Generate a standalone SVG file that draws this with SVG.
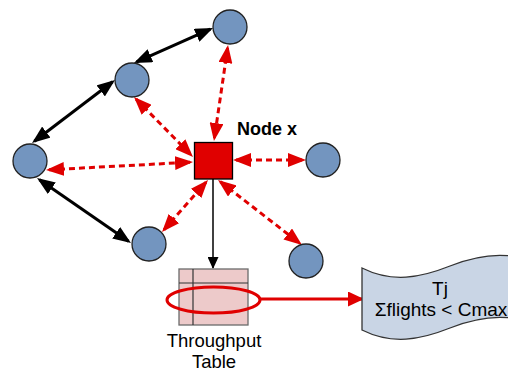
<svg xmlns="http://www.w3.org/2000/svg" width="508" height="372" viewBox="0 0 508 372">
  <defs>
    <style>
      .peer { fill: #7395bf; stroke: #222; stroke-width: 1.3; }
      .probe { fill: none; stroke: #e00000; stroke-width: 3; stroke-dasharray: 6 4; }
      .link { fill: none; stroke: #000; stroke-width: 3; }
      .lbl { font-family: "Liberation Sans", Arial, sans-serif; fill: #000; }
    </style>
    <marker id="ah-red" viewBox="0 0 18 14" refX="15" refY="7" markerWidth="18" markerHeight="14" markerUnits="userSpaceOnUse" orient="auto-start-reverse">
      <path d="M0,0 L18,7 L0,14 z" fill="#e00000"/>
    </marker>
    <marker id="ah-black" viewBox="0 0 18 14" refX="15" refY="7" markerWidth="18" markerHeight="14" markerUnits="userSpaceOnUse" orient="auto-start-reverse">
      <path d="M0,0 L18,7 L0,14 z" fill="#000"/>
    </marker>
    <marker id="ah-small" viewBox="0 0 12 11" refX="11" refY="5.5" markerWidth="12" markerHeight="11" markerUnits="userSpaceOnUse" orient="auto">
      <path d="M0,0 L12,5.5 L0,11 z" fill="#000"/>
    </marker>
    <marker id="ah-feed" viewBox="0 0 16 15" refX="14" refY="7.5" markerWidth="16" markerHeight="15" markerUnits="userSpaceOnUse" orient="auto">
      <path d="M0,0 L16,7.5 L0,15 z" fill="#e00000"/>
    </marker>
  </defs>

  <rect width="508" height="372" fill="#fff"/>

  <!-- connectors -->
  <g id="connectors">
    <!-- neighbour links (black, two-way) -->
    <path class="link" d="M210.3,29.2 L136.7,61.8" marker-start="url(#ah-black)" marker-end="url(#ah-black)"/>
    <path class="link" d="M112.6,81.8 L34.4,141.2" marker-start="url(#ah-black)" marker-end="url(#ah-black)"/>
    <path class="link" d="M39.5,179.7 L128.5,241.3" marker-start="url(#ah-black)" marker-end="url(#ah-black)"/>
    <!-- probes from node x (red dashed, two-way) -->
    <path class="probe" d="M227.6,48 L214.4,138" marker-start="url(#ah-red)" marker-end="url(#ah-red)"/>
    <path class="probe" d="M136.1,99.1 L190.9,154.9" marker-start="url(#ah-red)" marker-end="url(#ah-red)"/>
    <path class="probe" d="M49,169.8 L190,162.2" marker-start="url(#ah-red)" marker-end="url(#ah-red)"/>
    <path class="probe" d="M236,160 L303,160" marker-start="url(#ah-red)" marker-end="url(#ah-red)"/>
    <path class="probe" d="M164,229.8 L206,182.2" marker-start="url(#ah-red)" marker-end="url(#ah-red)"/>
    <path class="probe" d="M220.4,181.8 L299.6,243.2" marker-start="url(#ah-red)" marker-end="url(#ah-red)"/>
    <!-- node x to throughput table -->
    <path d="M213,179 L213,268" fill="none" stroke="#000" stroke-width="1.5" marker-end="url(#ah-small)"/>
    <!-- table entry to constraint -->
    <path d="M260,299 L362,299" fill="none" stroke="#e00000" stroke-width="3" marker-end="url(#ah-feed)"/>
  </g>

  <!-- peer nodes -->
  <g id="peer-top"><circle class="peer" cx="230" cy="27" r="17"/></g>
  <g id="peer-upper"><circle class="peer" cx="132" cy="80" r="17"/></g>
  <g id="peer-left"><circle class="peer" cx="30" cy="161" r="17"/></g>
  <g id="peer-right"><circle class="peer" cx="323" cy="160" r="17"/></g>
  <g id="peer-lower-left"><circle class="peer" cx="149" cy="244" r="17"/></g>
  <g id="peer-lower-right"><circle class="peer" cx="306" cy="261" r="17"/></g>

  <!-- node x -->
  <g id="node-x">
    <rect x="194.5" y="142.5" width="38" height="36.5" fill="#e00000" stroke="#000" stroke-width="1.3"/>
    <text class="lbl" x="237" y="135" font-size="18" font-weight="bold">Node x</text>
  </g>

  <!-- throughput table -->
  <g id="throughput-table">
    <rect x="179" y="269" width="69" height="56" fill="#edcaca" stroke="#6b6b6b" stroke-width="1.3"/>
    <line x1="193" y1="269" x2="193" y2="325" stroke="#333" stroke-width="1.2"/>
    <line x1="179" y1="283" x2="248" y2="283" stroke="#333" stroke-width="1.2"/>
    <ellipse cx="213.5" cy="300" rx="46.5" ry="13" fill="none" stroke="#e00000" stroke-width="3"/>
    <text class="lbl" x="214" y="347" font-size="18.5" text-anchor="middle">Throughput</text>
    <text class="lbl" x="214" y="368" font-size="18.5" text-anchor="middle">Table</text>
  </g>

  <!-- capacity constraint -->
  <g id="constraint">
    <path d="M362,268 C392,283 420,278 450,266 C475,256 498,252 522,258 L522,320 C498,314 475,318 450,328 C420,340 392,345 362,330 Z" fill="#c9d5e5" stroke="#333" stroke-width="1.3"/>
    <text class="lbl" x="440" y="295" font-size="19" text-anchor="middle">Tj</text>
    <text class="lbl" x="441" y="316" font-size="19" text-anchor="middle">Σflights &lt; Cmax</text>
  </g>
</svg>
